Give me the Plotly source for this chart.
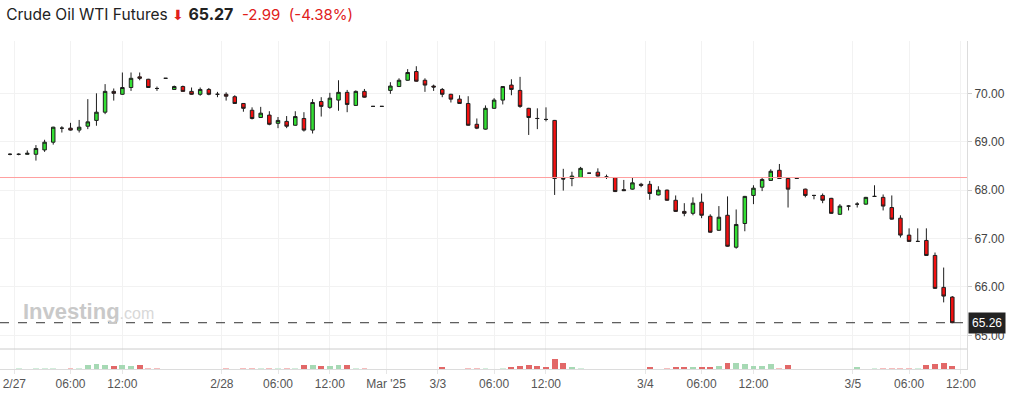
import plotly.graph_objects as go

# ---- data (hourly candles, index 0 = first slot on the chart) ----
opens = [68.74, 68.74, 68.74, 68.74, 68.83, 68.99, 69.28, 69.28, 69.24, 69.32,
         69.44, 69.61, 70.04, 69.98, 70.12, 70.34, 70.29, 70.10, 70.31, 70.08,
         70.14, 70.04, 69.98, 70.08, 69.98, 69.98, 69.93, 69.79, 69.65, 69.50,
         69.55, 69.38, 69.42, 69.34, 69.48, 69.24, 69.83, 69.71, 69.86, 70.02,
         69.75, 70.04, 69.73, 69.73, 70.06, 70.14, 70.27, 70.45, 70.27, 70.15,
         70.08, 69.98, 69.88, 69.79, 69.36, 69.26, 69.69, 69.86, 70.17, 70.06,
         69.69, 69.48, 69.46, 69.44, 68.24, 68.24, 68.26, 68.35, 68.37, 68.27,
         68.26, 68.01, 68.02, 68.12, 68.12, 67.90, 68.00, 67.79, 67.56, 67.52,
         67.75, 67.46, 67.17, 67.48, 66.82, 67.31, 67.89, 68.06, 68.20, 68.41,
         68.24, 68.24, 68.02, 67.89, 67.89, 67.83, 67.50, 67.67, 67.71, 67.71,
         67.87, 67.85, 67.64, 67.42, 67.07, 66.94, 66.96, 66.65, 65.99, 65.79]
highs = [68.76, 68.76, 68.82, 68.93, 69.04, 69.31, 69.32, 69.39, 69.45, 69.88,
         70.00, 70.19, 70.10, 70.43, 70.43, 70.43, 70.30, 70.14, 70.31, 70.16,
         70.16, 70.12, 70.12, 70.11, 70.03, 70.02, 69.96, 69.80, 69.71, 69.72,
         69.63, 69.51, 69.53, 69.63, 69.61, 69.88, 69.92, 70.01, 70.27, 70.07,
         70.06, 70.09, 69.73, 69.73, 70.23, 70.31, 70.50, 70.56, 70.31, 70.18,
         70.11, 69.99, 69.96, 69.94, 69.48, 69.75, 69.90, 70.15, 70.29, 70.34,
         69.70, 69.69, 69.71, 69.45, 68.44, 68.38, 68.48, 68.35, 68.45, 68.32,
         68.27, 68.21, 68.26, 68.15, 68.19, 68.08, 68.01, 67.89, 67.73, 67.85,
         67.93, 67.50, 67.67, 67.87, 67.60, 67.88, 68.10, 68.26, 68.43, 68.54,
         68.25, 68.24, 68.03, 67.90, 67.93, 67.84, 67.71, 67.69, 67.75, 67.86,
         68.10, 67.91, 67.89, 67.48, 67.21, 67.21, 67.21, 66.71, 66.40, 65.81]
lows = [68.72, 68.72, 68.73, 68.61, 68.79, 68.94, 69.19, 69.23, 69.19, 69.26,
        69.33, 69.57, 69.85, 69.97, 70.05, 70.27, 70.11, 70.05, 70.31, 70.07,
        70.04, 69.97, 69.95, 69.96, 69.92, 69.85, 69.79, 69.62, 69.46, 69.50,
        69.34, 69.28, 69.28, 69.33, 69.21, 69.17, 69.52, 69.68, 69.64, 69.61,
        69.74, 69.91, 69.73, 69.73, 69.99, 70.13, 70.26, 70.24, 70.03, 70.05,
        69.92, 69.81, 69.78, 69.33, 69.26, 69.25, 69.68, 69.77, 69.96, 69.70,
        69.14, 69.26, 69.42, 67.90, 67.99, 68.08, 68.25, 68.35, 68.28, 68.23,
        67.96, 67.98, 68.01, 68.06, 67.80, 67.89, 67.78, 67.55, 67.46, 67.48,
        67.42, 67.12, 67.16, 66.83, 66.79, 67.15, 67.71, 67.98, 68.19, 68.23,
        67.64, 68.24, 67.85, 67.81, 67.73, 67.51, 67.49, 67.58, 67.64, 67.70,
        67.87, 67.58, 67.39, 67.02, 66.93, 66.94, 66.64, 65.96, 65.68, 65.25]
closes = [68.74, 68.74, 68.76, 68.86, 68.99, 69.30, 69.28, 69.24, 69.30, 69.41,
          69.61, 70.04, 70.00, 70.12, 70.31, 70.31, 70.12, 70.10, 70.31, 70.14,
          70.04, 69.98, 70.08, 69.98, 69.98, 69.94, 69.79, 69.69, 69.48, 69.59,
          69.36, 69.44, 69.32, 69.52, 69.24, 69.81, 69.73, 69.90, 70.02, 69.77,
          70.04, 69.92, 69.73, 69.73, 70.15, 70.27, 70.43, 70.25, 70.17, 70.13,
          69.98, 69.88, 69.79, 69.34, 69.28, 69.69, 69.86, 70.14, 70.08, 69.73,
          69.50, 69.48, 69.46, 68.24, 68.23, 68.29, 68.45, 68.35, 68.29, 68.27,
          67.97, 67.99, 68.15, 68.10, 67.93, 68.00, 67.79, 67.56, 67.52, 67.73,
          67.48, 67.13, 67.44, 66.84, 67.29, 67.87, 68.04, 68.22, 68.39, 68.24,
          68.02, 68.24, 67.89, 67.89, 67.79, 67.52, 67.67, 67.67, 67.71, 67.85,
          67.87, 67.67, 67.40, 67.07, 66.94, 66.94, 66.65, 65.97, 65.81, 65.26]
volumes = [0, 1800, 0, 1800, 1800, 1800, 0, 1800, 1800, 7200,
           9000, 7200, 5400, 7200, 5400, 7200, 1800, 1800, 0, 0,
           0, 0, 0, 0, 0, 1800, 0, 1800, 1800, 1800,
           1800, 1800, 1800, 1800, 7200, 7200, 5400, 5400, 7200, 7200,
           1800, 1800, 0, 0, 0, 0, 0, 0, 0, 0,
           3600, 0, 0, 1800, 1800, 1800, 0, 1800, 3600, 5400,
           7200, 5400, 3600, 18000, 10800, 3600, 1800, 0, 0, 0,
           0, 0, 0, 0, 3600, 0, 1800, 3600, 3600, 3600,
           3600, 3600, 5400, 10800, 10800, 9000, 5400, 5400, 9000, 1800,
           7200, 0, 0, 0, 0, 0, 0, 0, 3600, 0,
           1800, 1800, 1800, 1800, 1800, 1800, 7200, 9000, 10800, 5400]

tick_pos = [0.5, 7, 13, 24.5, 31, 37, 43.5, 49.5, 56, 62, 73.5, 80, 86, 97.5, 104, 110]
tick_text = ["2/27", "06:00", "12:00", "2/28", "06:00", "12:00", "Mar '25", "3/3",
             "06:00", "12:00", "3/4", "06:00", "12:00", "3/5", "06:00", "12:00"]
price_ticks = [65, 66, 67, 68, 69, 70]
prev_close = 68.26
last_price = 65.26

x = list(range(len(opens)))

# volume colours from candle direction
vol_colors = []
for i in x:
    if closes[i] > opens[i]:
        up = True
    elif closes[i] < opens[i]:
        up = False
    else:
        up = i == 0 or closes[i] >= closes[i - 1]
    small = volumes[i] < 2500
    if up:
        vol_colors.append("#d2eddb" if small else "#a6d9b4")
    else:
        vol_colors.append("#f6bcbc" if small else "#e26868")

fig = go.Figure()
# previous-close reference line (drawn as a trace so its colour renders exactly)
fig.add_trace(go.Scatter(
    x=[-1.157, 110.70], y=[prev_close, prev_close], mode="lines",
    line=dict(color="#ff9f9f", width=1), hoverinfo="skip", showlegend=False,
    xaxis="x", yaxis="y",
))
fig.add_trace(go.Candlestick(
    x=x, open=opens, high=highs, low=lows, close=closes,
    increasing=dict(line=dict(color="#1e1e1e", width=1), fillcolor="#33de33"),
    decreasing=dict(line=dict(color="#1e1e1e", width=1), fillcolor="#f21010"),
    whiskerwidth=0, xaxis="x", yaxis="y", showlegend=False,
))
fig.add_trace(go.Bar(
    x=x, y=volumes, marker=dict(color=vol_colors, line=dict(width=0)),
    width=0.68, xaxis="x", yaxis="y2", showlegend=False,
))

vol_top = 20 / 328

fig.update_layout(
    width=1023, height=395,
    margin=dict(l=0, r=56, t=41, b=26),
    paper_bgcolor="white", plot_bgcolor="white",
    boxgap=0.42,
    font=dict(family="Liberation Sans, Arial, sans-serif", size=12, color="#444"),
    title=dict(
        text=("Crude Oil WTI Futures <span style='color:#e0201b;font-size:14px'>⬇</span>"
              " <b style='font-size:16px'>65.27</b> <span style='color:#e0201b;font-size:15px'>&nbsp;-2.99&nbsp; (-4.38%)</span>"),
        x=0.006, xanchor="left", xref="container",
        y=1 - 15 / 395, yanchor="middle", yref="container",
        font=dict(family="Inter, Roboto, sans-serif", size=15.5, color="#222"),
    ),
    xaxis=dict(
        range=[-1.157, 110.70], anchor="y2",
        tickmode="array", tickvals=tick_pos, ticktext=tick_text,
        showgrid=True, gridcolor="#f2f2f2", gridwidth=1,
        showline=True, linecolor="#dcdcdc", linewidth=1,
        ticks="outside", ticklen=4, tickcolor="#e6e6e6",
        tickfont=dict(size=12, color="#555"),
        rangeslider=dict(visible=False), zeroline=False, fixedrange=True,
    ),
    yaxis=dict(
        domain=[vol_top, 1], range=[64.717, 71.081], side="right", anchor="x",
        tickmode="array", tickvals=price_ticks, tickformat=".2f",
        showgrid=True, gridcolor="#f2f2f2", gridwidth=1,
        showline=True, linecolor="#dcdcdc", linewidth=1,
        ticks="outside", ticklen=4, tickcolor="#cccccc",
        tickfont=dict(size=12, color="#444"), zeroline=False,
    ),
    yaxis2=dict(
        domain=[0, vol_top], range=[0, 36000], side="right", anchor="x",
        showticklabels=False, showgrid=False, zeroline=False,
        showline=True, linecolor="#dcdcdc", linewidth=1, ticks="",
    ),
    shapes=[
        dict(type="line", xref="paper", x0=0, x1=1, yref="y", y0=last_price, y1=last_price,
             line=dict(color="#333333", width=1, dash="dash"), layer="above"),
        dict(type="line", xref="paper", x0=0, x1=1, yref="paper", y0=vol_top, y1=vol_top,
             line=dict(color="#cccccc", width=1), layer="above"),
    ],
    annotations=[
        dict(text="<b>Investing</b><span style='font-size:16px;color:#d8d8d8'>.com</span>",
             xref="paper", yref="y", x=21 / 967, y=65.5, xanchor="left", yanchor="middle",
             showarrow=False, font=dict(family="Liberation Sans, Arial", size=22, color="#c9c9c9")),
        dict(text="65.26", xref="paper", yref="y", x=1, y=last_price, xanchor="left",
             yanchor="middle", showarrow=False, bgcolor="#222222", borderpad=3, xshift=1,
             font=dict(family="Liberation Sans, Arial", size=12, color="white")),
    ],
    bargap=0,
)

fig.write_html("out.html", config={"displayModeBar": False})

# remove the browser's default 8px body margin so the figure sits at the page origin
with open("out.html", encoding="utf-8") as f:
    html = f.read()
html = html.replace("<head>", "<head><style>html,body{margin:0;padding:0;overflow:hidden;}</style>", 1)
with open("out.html", "w", encoding="utf-8") as f:
    f.write(html)
